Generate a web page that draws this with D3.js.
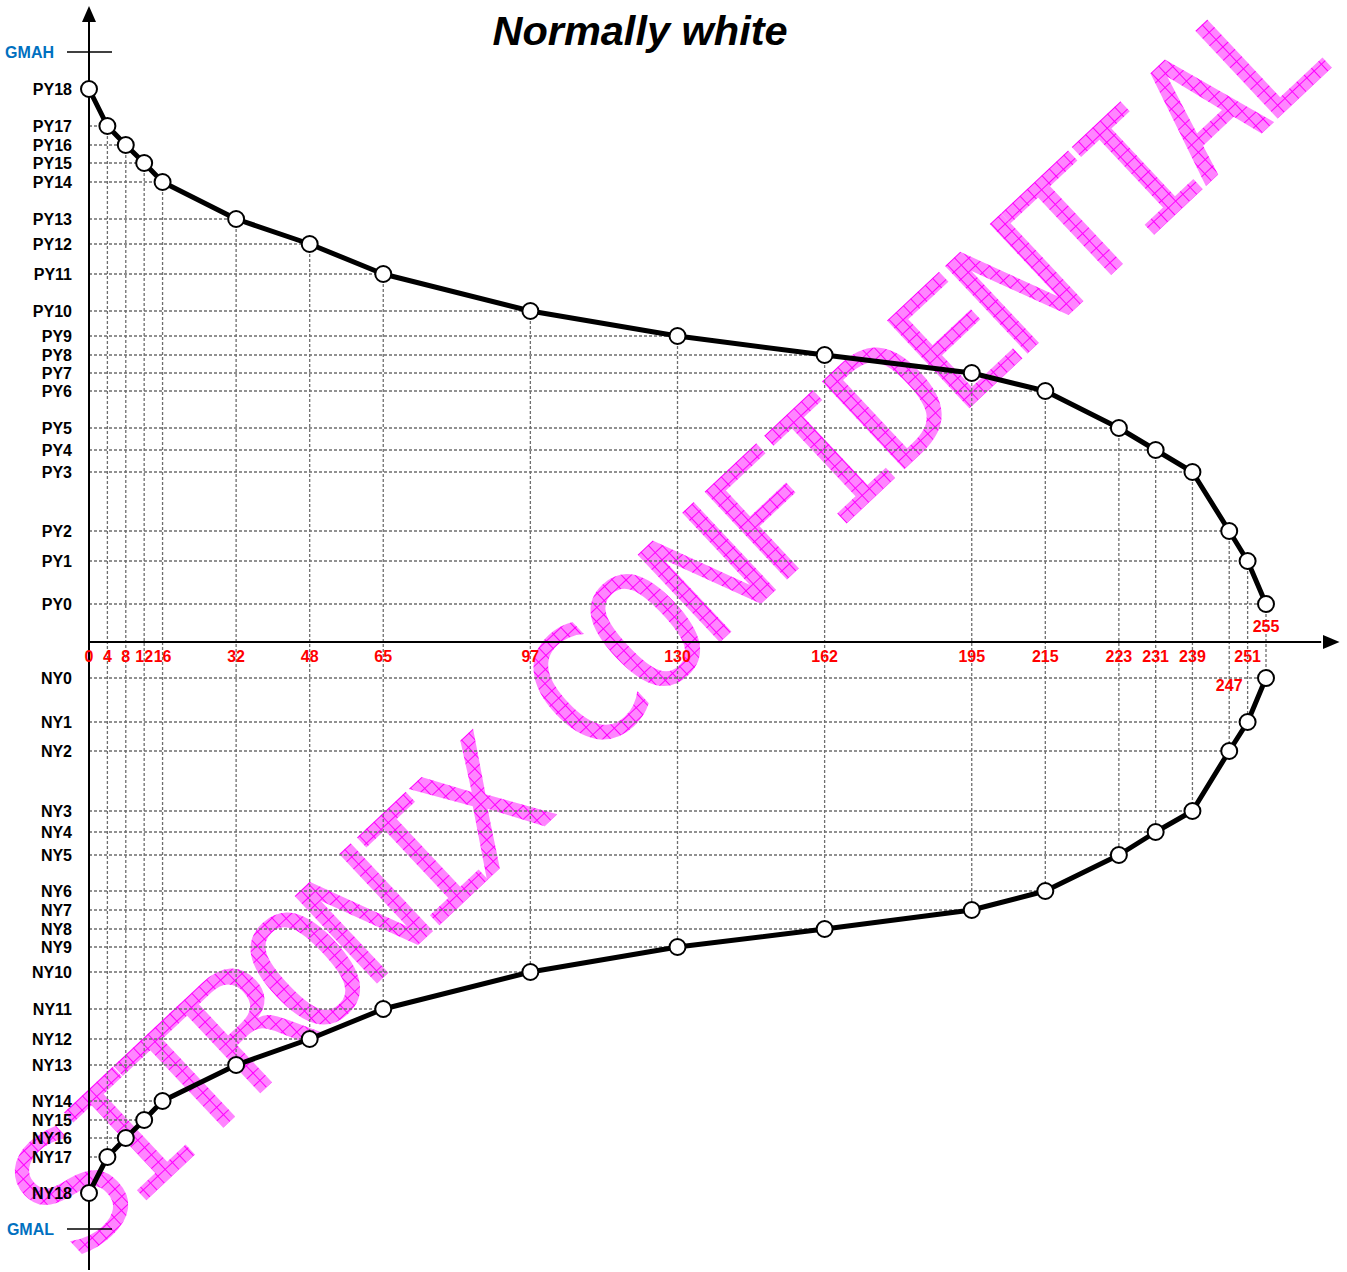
<!DOCTYPE html>
<meta charset="utf-8">

<!-- Load d3.js -->
<script src="https://d3js.org/d3.v7.min.js"></script>

<style>
  body { margin: 0; background: #fff; }
  text { font-family: "Liberation Sans", Arial, sans-serif; }
</style>

<!-- Create a div where the graph will take place -->
<div id="my_dataviz"></div>

<script>

// gray levels on the x axis and their place on the 64 step scale
var grayLevels = [0, 4, 8, 12, 16, 32, 48, 65, 97, 130, 162, 195, 215, 223, 231, 239, 247, 251, 255];
var graySteps  = [0, 1, 2, 3, 4, 8, 12, 16, 24, 32, 40, 48, 52, 56, 58, 60, 62, 63, 64];

// positive gamma taps, same order as grayLevels (PY18 = gray 0 ... PY0 = gray 255)
var pyLabels = ["PY18", "PY17", "PY16", "PY15", "PY14", "PY13", "PY12", "PY11", "PY10", "PY9",
                "PY8", "PY7", "PY6", "PY5", "PY4", "PY3", "PY2", "PY1", "PY0"];
var pyValues = [5.53, 5.16, 4.97, 4.79, 4.60, 4.23, 3.98, 3.68, 3.31, 3.06,
                2.87, 2.69, 2.51, 2.14, 1.92, 1.70, 1.11, 0.81, 0.38];

// negative gamma taps (NY18 = gray 0 ... NY0 = gray 255)
var nyLabels = ["NY18", "NY17", "NY16", "NY15", "NY14", "NY13", "NY12", "NY11", "NY10", "NY9",
                "NY8", "NY7", "NY6", "NY5", "NY4", "NY3", "NY2", "NY1", "NY0"];
var nyValues = [-5.51, -5.15, -4.96, -4.78, -4.59, -4.23, -3.97, -3.67, -3.30, -3.05,
                -2.87, -2.68, -2.49, -2.13, -1.90, -1.69, -1.09, -0.80, -0.36];

// reference levels
var refLabels = ["GMAH", "GMAL"];
var refValues = [5.90, -5.87];

var width = 1347,
    height = 1272;

// append the svg object to the body of the page
var svg = d3.select("#my_dataviz")
  .append("svg")
    .attr("width", width)
    .attr("height", height)
    .style("display", "block");

// X scale: 64 steps, gray levels placed on their step
var xStep = d3.scaleLinear()
  .domain([0, 64])
  .range([89, 1266]);
var x = d3.scaleLinear()
  .domain(grayLevels)
  .range(graySteps.map(xStep));

// Y scale
var y = d3.scaleLinear()
  .domain([-6.28, 6.36])
  .range([1270, 6]);

var pyData = grayLevels.map(function(g, i) { return {gray: g, v: pyValues[i], label: pyLabels[i]}; });
var nyData = grayLevels.map(function(g, i) { return {gray: g, v: nyValues[i], label: nyLabels[i]}; });

// watermark
var defs = svg.append("defs");
var pat = defs.append("pattern")
  .attr("id", "hatch")
  .attr("patternUnits", "userSpaceOnUse")
  .attr("width", 10)
  .attr("height", 10);
pat.append("rect").attr("width", 10).attr("height", 10).attr("fill", "#ff85ff");
pat.append("path").attr("d", "M0,0.5H10M0.5,0V10").attr("stroke", "#ff00ff").attr("stroke-width", 1);

var wmSize = 165;
var wmWords = [
  {text: "SITRONIX", cx: 276, cy: 996, spacing: -19},
  {text: "CONFIDENTIAL", cx: 922, cy: 370, spacing: -15}
];
svg.selectAll(".wm")
  .data(wmWords)
  .enter()
  .append("text")
    .attr("transform", function(d) { return "translate(" + d.cx + "," + d.cy + ") rotate(-43.2)"; })
    .attr("text-anchor", "middle")
    .attr("x", function(d) { return d.spacing / 2; })
    .attr("y", wmSize * 0.3645)
    .style("font-family", "'DejaVu Sans Mono', monospace")
    .style("font-size", wmSize + "px")
    .style("letter-spacing", function(d) { return d.spacing + "px"; })
    .attr("fill", "url(#hatch)")
    .text(function(d) { return d.text; });

// dashed grid
var grid = svg.append("g")
  .attr("stroke", "#6e6e6e")
  .attr("stroke-width", 1.3)
  .attr("stroke-dasharray", "3,2")
  .attr("fill", "none");

grid.selectAll(".hline")
  .data(pyData.concat(nyData))
  .enter()
  .append("line")
    .attr("x1", x(0))
    .attr("x2", function(d) { return x(d.gray); })
    .attr("y1", function(d) { return y(d.v); })
    .attr("y2", function(d) { return y(d.v); });

grid.selectAll(".vline")
  .data(grayLevels)
  .enter()
  .append("line")
    .attr("x1", function(d) { return x(d); })
    .attr("x2", function(d) { return x(d); })
    .attr("y1", function(d, i) { return y(pyValues[i]); })
    .attr("y2", function(d, i) { return y(nyValues[i]); });

// Y axis with arrow
svg.append("line")
  .attr("x1", x(0)).attr("x2", x(0))
  .attr("y1", y(-6.28)).attr("y2", y(6.2))
  .attr("stroke", "#000").attr("stroke-width", 2);
svg.append("path")
  .attr("d", "M" + x(0) + "," + y(6.36) + "L" + (x(0) - 7) + "," + y(6.2) + "L" + (x(0) + 7) + "," + y(6.2) + "Z")
  .attr("fill", "#000");

// X axis with arrow
svg.append("line")
  .attr("x1", x(0)).attr("x2", xStep(67))
  .attr("y1", y(0)).attr("y2", y(0))
  .attr("stroke", "#000").attr("stroke-width", 2);
svg.append("path")
  .attr("d", "M" + xStep(68) + "," + y(0) + "L" + xStep(67.1) + "," + (y(0) - 7) + "L" + xStep(67.1) + "," + (y(0) + 7) + "Z")
  .attr("fill", "#000");

// GMAH / GMAL ticks and labels
svg.selectAll(".ref")
  .data(refValues)
  .enter()
  .append("line")
    .attr("x1", x(0) - 22).attr("x2", x(0) + 23)
    .attr("y1", function(d) { return y(d); })
    .attr("y2", function(d) { return y(d); })
    .attr("stroke", "#000").attr("stroke-width", 1.5);
svg.selectAll(".reflabel")
  .data(refValues)
  .enter()
  .append("text")
    .attr("x", 54)
    .attr("y", function(d) { return y(d); })
    .attr("text-anchor", "end")
    .attr("dominant-baseline", "central")
    .style("font-size", "16px")
    .style("font-weight", "bold")
    .attr("fill", "#0070c0")
    .text(function(d, i) { return refLabels[i]; });

// tap labels
svg.selectAll(".taplabel")
  .data(pyData.concat(nyData))
  .enter()
  .append("text")
    .attr("x", 72)
    .attr("y", function(d) { return y(d.v); })
    .attr("text-anchor", "end")
    .attr("dominant-baseline", "central")
    .style("font-size", "16px")
    .style("font-weight", "bold")
    .attr("fill", "#000")
    .text(function(d) { return d.label; });

// gray level labels
svg.selectAll(".graylabel")
  .data(grayLevels)
  .enter()
  .append("text")
    .attr("x", function(d) { return x(d); })
    .attr("y", function(d) {
      if (d == 255) return y(0) - 16;
      if (d == 247) return y(0) + 43;
      return y(0) + 14;
    })
    .attr("text-anchor", "middle")
    .attr("dominant-baseline", "central")
    .style("font-size", "16px")
    .style("font-weight", "bold")
    .attr("fill", "#ff0000")
    .text(function(d) { return d; });

// curves
var line = d3.line()
  .x(function(d) { return x(d.gray); })
  .y(function(d) { return y(d.v); });

[pyData, nyData].forEach(function(data) {
  svg.append("path")
    .datum(data)
    .attr("d", line)
    .attr("fill", "none")
    .attr("stroke", "#000")
    .attr("stroke-width", 5)
    .attr("stroke-linejoin", "round");

  svg.append("g")
    .selectAll("dot")
    .data(data)
    .enter()
    .append("circle")
      .attr("cx", function(d) { return x(d.gray); })
      .attr("cy", function(d) { return y(d.v); })
      .attr("r", 8)
      .attr("fill", "#fff")
      .attr("stroke", "#000")
      .attr("stroke-width", 2);
});

// title
svg.append("text")
  .attr("x", 640)
  .attr("y", 45)
  .attr("text-anchor", "middle")
  .style("font-size", "41.5px")
  .style("font-weight", "bold")
  .style("font-style", "italic")
  .text("Normally white");

</script>
